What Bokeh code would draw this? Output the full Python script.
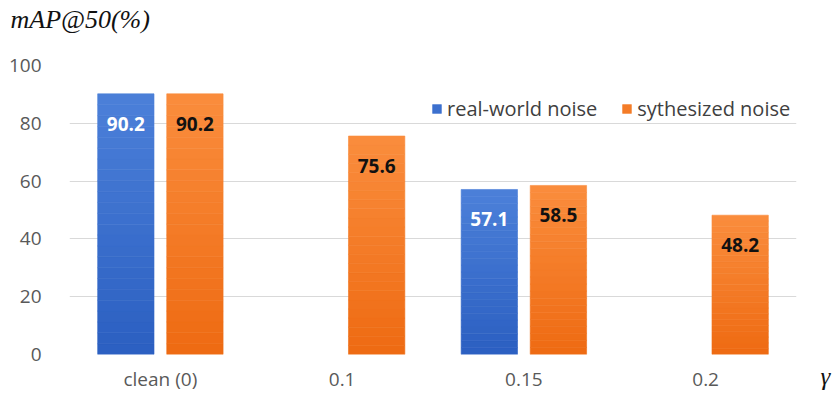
from bokeh.plotting import figure
from bokeh.models import (ColumnDataSource, Range1d, FactorRange, Legend,
                          LegendItem, FixedTicker, Title, LinearAxis)
from bokeh.transform import dodge
from bokeh.core.properties import value
from bokeh.embed import file_html
from bokeh.resources import INLINE

categories = ["clean (0)", "0.1", "0.15", "0.2"]
real_world = [90.2, None, 57.1, None]
synthesized = [90.2, 75.6, 58.5, 48.2]
y_ticks = [0, 20, 40, 60, 80, 100]
series_names = ["real-world noise", "sythesized noise"]
y_title = "mAP@50(%)"
x_title = "γ"

FONT = "Open Sans"
N = 24


def lerp(c1, c2, t):
    a = [int(c1[i:i + 2], 16) for i in (1, 3, 5)]
    b = [int(c2[i:i + 2], 16) for i in (1, 3, 5)]
    return "#%02x%02x%02x" % tuple(round(a[k] + (b[k] - a[k]) * t) for k in range(3))


p = figure(width=834, height=394, x_range=FactorRange(*categories, range_padding=0),
           y_range=Range1d(0, 100), output_backend="svg", toolbar_location=None,
           min_border_left=69, min_border_right=38, min_border_top=65, min_border_bottom=40)

p.outline_line_color = None
p.xgrid.grid_line_color = None
p.ygrid.grid_line_color = "#d9d9d9"
p.yaxis.ticker = FixedTicker(ticks=y_ticks)
for ax in (p.xaxis, p.yaxis):
    ax.axis_line_color = None
    ax.major_tick_line_color = None
    ax.minor_tick_line_color = None
    ax.major_label_text_font = FONT
    ax.major_label_text_font_size = "19px"
    ax.major_label_text_color = "#595959"
p.yaxis.major_label_standoff = 22
p.xaxis.major_label_standoff = 5

# gamma symbol as the label of a right-hand axis placed at the bottom of the value axis
g_axis = LinearAxis(ticker=FixedTicker(ticks=[y_ticks[0]]),
                    major_label_overrides={y_ticks[0]: "\n" + x_title})
g_axis.axis_line_color = None
g_axis.major_tick_line_color = None
g_axis.minor_tick_line_color = None
g_axis.major_label_standoff = 18
g_axis.major_label_text_font = "Liberation Serif"
g_axis.major_label_text_font_style = "italic"
g_axis.major_label_text_font_size = "25px"
g_axis.major_label_text_line_height = 1.6
g_axis.major_label_text_color = "#111111"
p.add_layout(g_axis, "right")

specs = [
    (real_world, -0.19, "#2b5fc1", "#4c80d9", "white"),
    (synthesized, 0.19, "#ee6a12", "#fa8d3d", "#111111"),
]

legend_items = []
for si, (vals, off, c_bot, c_top, lab_col) in enumerate(specs):
    cats = [c for c, v in zip(categories, vals) if v is not None]
    vv = [v for v in vals if v is not None]
    mid_r = None
    for i in range(N):
        src = ColumnDataSource(dict(
            x=cats,
            bottom=[v * i / N for v in vv],
            top=[v * (i + 1) / N for v in vv],
        ))
        col = lerp(c_bot, c_top, (i + 0.5) / N)
        r = p.vbar(x=dodge("x", off, range=p.x_range), bottom="bottom", top="top",
                   width=0.31, source=src, fill_color=col, line_color=col, line_width=0.6)
        if i == N // 2:
            mid_r = r
    legend_items.append(LegendItem(label=series_names[si], renderers=[mid_r]))
    lsrc = ColumnDataSource(dict(x=cats, y=vv, t=["%.1f" % v for v in vv]))
    p.text(x=dodge("x", off, range=p.x_range), y="y", text="t", source=lsrc,
           text_align="center", text_baseline="middle", y_offset=30,
           text_font=value(FONT), text_font_style="bold", text_font_size="19px",
           text_color=lab_col)

legend = Legend(items=legend_items, orientation="horizontal", location=(362, 232))
legend.padding = 0
legend.margin = 0
legend.spacing = 24
legend.label_standoff = 5
legend.glyph_width = 11
legend.glyph_height = 11
legend.label_text_font = FONT
legend.label_text_font_size = "20px"
legend.label_text_color = "#404040"
legend.border_line_color = None
legend.background_fill_alpha = 0
p.add_layout(legend)

p.add_layout(Title(text=y_title + "\n", align="left", offset=-59, standoff=0,
                   text_font="Liberation Serif", text_font_style="italic",
                   text_font_size="26px", text_line_height=1.1,
                   text_color="#111111"), "above")

open("out.html", "w").write(file_html(p, INLINE))
